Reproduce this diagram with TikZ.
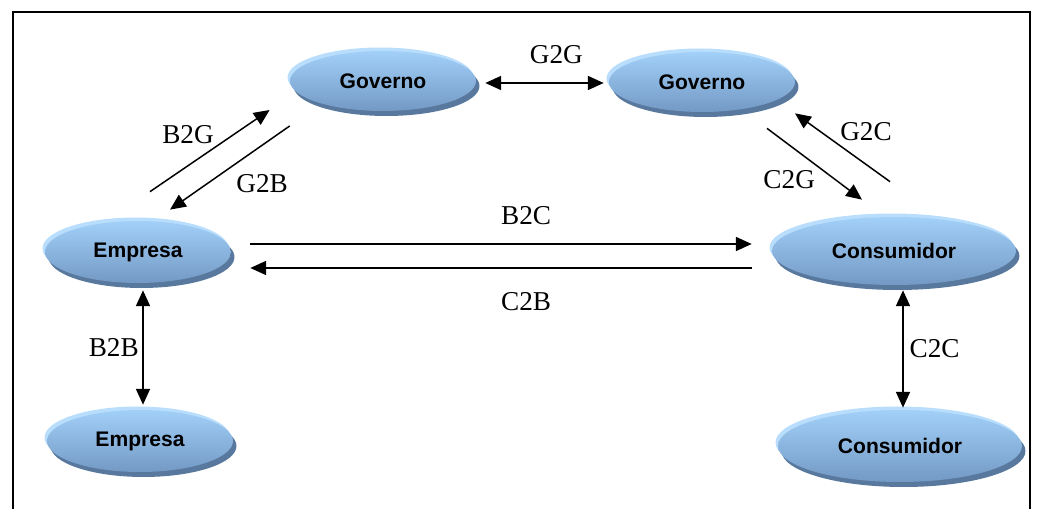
\documentclass[tikz,border=0pt]{standalone}
\usepackage{fontspec}
\setmainfont{Liberation Serif}
\setsansfont{Liberation Sans}
\usetikzlibrary{shapes.geometric,arrows.meta,calc}
\definecolor{rimblue}{HTML}{B9DDFC}
\definecolor{topblue}{HTML}{A2D0F8}
\definecolor{botblue}{HTML}{7399C4}
\definecolor{shadeblue}{HTML}{58789E}
\tikzstyle{arrow} = [-{Triangle[length=9pt,width=8pt]}, line width=0.85pt]
\tikzstyle{twoway} = [{Triangle[length=9pt,width=8pt]}-{Triangle[length=9pt,width=8pt]}, line width=0.85pt]
\tikzstyle{bubble} = [ellipse, inner sep=0pt, font=\sffamily\bfseries\fontsize{12}{14}\selectfont,
    preaction={fill=shadeblue, transform canvas={shift={(0.07cm,-0.1cm)}}},
    preaction={fill=rimblue, transform canvas={shift={(-0.05cm,0.07cm)}}},
    top color=topblue, bottom color=botblue]
\tikzstyle{lbl} = [font=\fontsize{15.5}{18}\selectfont]

\begin{document}
\begin{tikzpicture}[x=0.02cm, y=-0.02cm]
        \useasboundingbox (0,0) rectangle (1041,509);
        \draw[line width=1.1pt] (13,509) -- (13,12) -- (1030,12) -- (1030,509);

        \node[bubble, minimum width=3.72cm, minimum height=1.2cm] at (383,81) (govL) {Governo};
        \node[bubble, minimum width=3.72cm, minimum height=1.2cm] at (702,82) (govR) {Governo};
        \node[bubble, minimum width=3.72cm, minimum height=1.24cm] at (138,252) (empA) {Empresa};
        \node[bubble, minimum width=3.72cm, minimum height=1.24cm] at (140,441) (empB) {Empresa};
        \node[bubble, minimum width=4.88cm, minimum height=1.36cm] at (894,251) (conA) {Consumidor};
        \node[bubble, minimum width=4.88cm, minimum height=1.44cm] at (900,446) (conB) {Consumidor};

        \draw[twoway] ($(govL.east)+(9,2)$) -- ($(govR.west)+(-5,1)$) node[lbl, pos=0.6, above=7pt]{G2G};
        \draw[arrow] ($(empA.north)+(12,-29)$) -- ($(govL.west)+(-20,29)$) node[lbl, midway, above left, xshift=6pt]{B2G};
        \draw[arrow] ($(govL.west)+(0,45)$) -- ($(empA.north)+(32,-11)$) node[lbl, midway, below right]{G2B};
        \draw[arrow] ($(conA.north)+(-4,-35)$) -- ($(govR.south)+(93,1)$) node[lbl, midway, above right, xshift=-5pt]{G2C};
        \draw[arrow] ($(govR.south)+(65,16)$) -- ($(conA.north)+(-32,-17)$) node[lbl, midway, below left, xshift=4pt]{C2G};
        \draw[arrow] ($(empA.east)+(19,-8)$) -- ($(conA.west)+(-20,-7)$) node[lbl, pos=0.55, above=7pt]{B2C};
        \draw[arrow] ($(conA.west)+(-20,17)$) -- ($(empA.east)+(19,16)$) node[lbl, pos=0.45, below=10pt]{C2B};
        \draw[twoway] ($(empA.south)+(5,7)$) -- ($(empB.north)+(3,-5)$) node[lbl, midway, left, inner sep=2pt]{B2B};
        \draw[twoway] ($(conA.south)+(9,5)$) -- ($(conB.north)+(3,-2)$) node[lbl, midway, right]{C2C};

    \end{tikzpicture}
\end{document}
